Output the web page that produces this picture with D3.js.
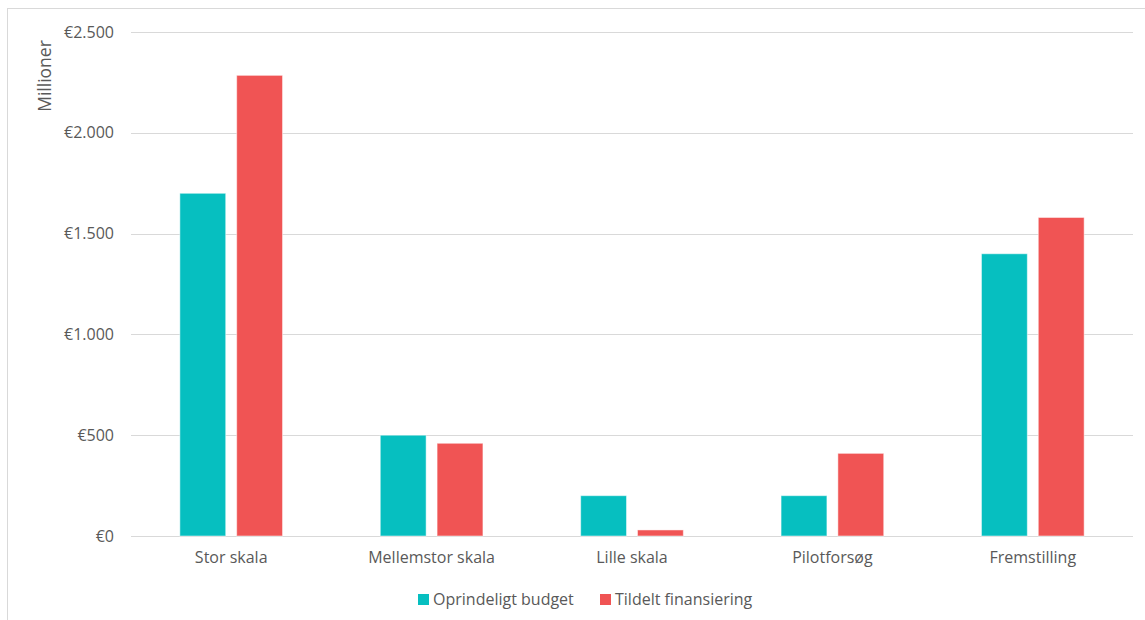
<!DOCTYPE html>
<html>
<head>
<meta charset="utf-8">
<script src="https://cdn.jsdelivr.net/npm/d3@7"></script>
<style>
  body { margin: 0; background: #fff; }
  text { font-family: "Open Sans", sans-serif; fill: #595959; }
</style>
</head>
<body>
<div id="container"></div>
<script>
/* DATA */
const categories = ["Stor skala", "Mellemstor skala", "Lille skala", "Pilotforsøg", "Fremstilling"];
const seriesNames = ["Oprindeligt budget", "Tildelt finansiering"];
const budget = [1700, 500, 200, 200, 1400];
const tildelt = [2285, 460, 30, 410, 1580];
const yTicks = [0, 500, 1000, 1500, 2000, 2500];

const colors = ["#06bfc0", "#f05454"];

const width = 1145, height = 620;
const margin = { left: 131, right: 12, top: 32, bottom: 84 };

const svg = d3.select("#container").append("svg")
  .attr("width", width).attr("height", height);

// chart frame
svg.append("rect")
  .attr("x", 7.5).attr("y", 8.5)
  .attr("width", width + 10).attr("height", height + 10)
  .attr("fill", "none").attr("stroke", "#d9d9d9");

const x = d3.scaleBand()
  .domain(categories)
  .range([margin.left, width - margin.right]);

const xInner = d3.scaleBand()
  .domain(seriesNames)
  .range([0, x.bandwidth()])
  .paddingInner(0.193)
  .paddingOuter(0.86);

const y = d3.scaleLinear()
  .domain([0, 2500])
  .range([height - margin.bottom, margin.top]);

// gridlines
svg.append("g")
  .selectAll("line")
  .data(yTicks)
  .join("line")
  .attr("x1", margin.left).attr("x2", width - margin.right)
  .attr("y1", d => Math.round(y(d)) + 0.5).attr("y2", d => Math.round(y(d)) + 0.5)
  .attr("stroke", "#d9d9d9").attr("stroke-width", 1);

// y axis labels
const fmt = d => "€" + d3.format(",")(d).replace(/,/g, ".");
const yAxis = d3.axisLeft(y).tickValues(yTicks).tickFormat(fmt).tickSize(0).tickPadding(17);
const gy = svg.append("g")
  .attr("transform", `translate(${margin.left},0)`)
  .call(yAxis);
gy.select(".domain").remove();
gy.selectAll("text").style("font-size", "16px").attr("font-family", null).attr("fill", "#595959");

// x axis labels
const xAxis = d3.axisBottom(x).tickSize(0).tickPadding(16);
const gx = svg.append("g")
  .attr("transform", `translate(0,${height - margin.bottom})`)
  .call(xAxis);
gx.select(".domain").remove();
gx.selectAll("text").style("font-size", "16px").attr("font-family", null).attr("fill", "#595959");

// bars
const rows = categories.map((c, i) => ({ cat: c, values: [budget[i], tildelt[i]] }));
svg.append("g")
  .selectAll("g")
  .data(rows)
  .join("g")
  .attr("transform", d => `translate(${x(d.cat)},0)`)
  .selectAll("rect")
  .data(d => d.values.map((v, j) => ({ key: seriesNames[j], value: v, j })))
  .join("rect")
  .attr("x", d => xInner(d.key))
  .attr("width", xInner.bandwidth())
  .attr("y", d => y(d.value))
  .attr("height", d => y(0) - y(d.value))
  .attr("fill", d => colors[d.j])
  .attr("stroke", "#ffffff").attr("stroke-opacity", 0.5).attr("stroke-width", 1);

// y axis title
svg.append("text")
  .attr("transform", "translate(51,76) rotate(-90)")
  .attr("text-anchor", "middle")
  .style("font-size", "17.5px")
  .text("Millioner");

// legend
const legendX = [418, 600];
const legend = svg.append("g")
  .selectAll("g")
  .data(seriesNames)
  .join("g")
  .attr("transform", (d, i) => `translate(${legendX[i]},594)`);
legend.append("rect")
  .attr("width", 11).attr("height", 11)
  .attr("fill", (d, i) => colors[i]);
legend.append("text")
  .attr("x", 15).attr("y", 11)
  .style("font-size", "16px")
  .text(d => d);
</script>
</body>
</html>
